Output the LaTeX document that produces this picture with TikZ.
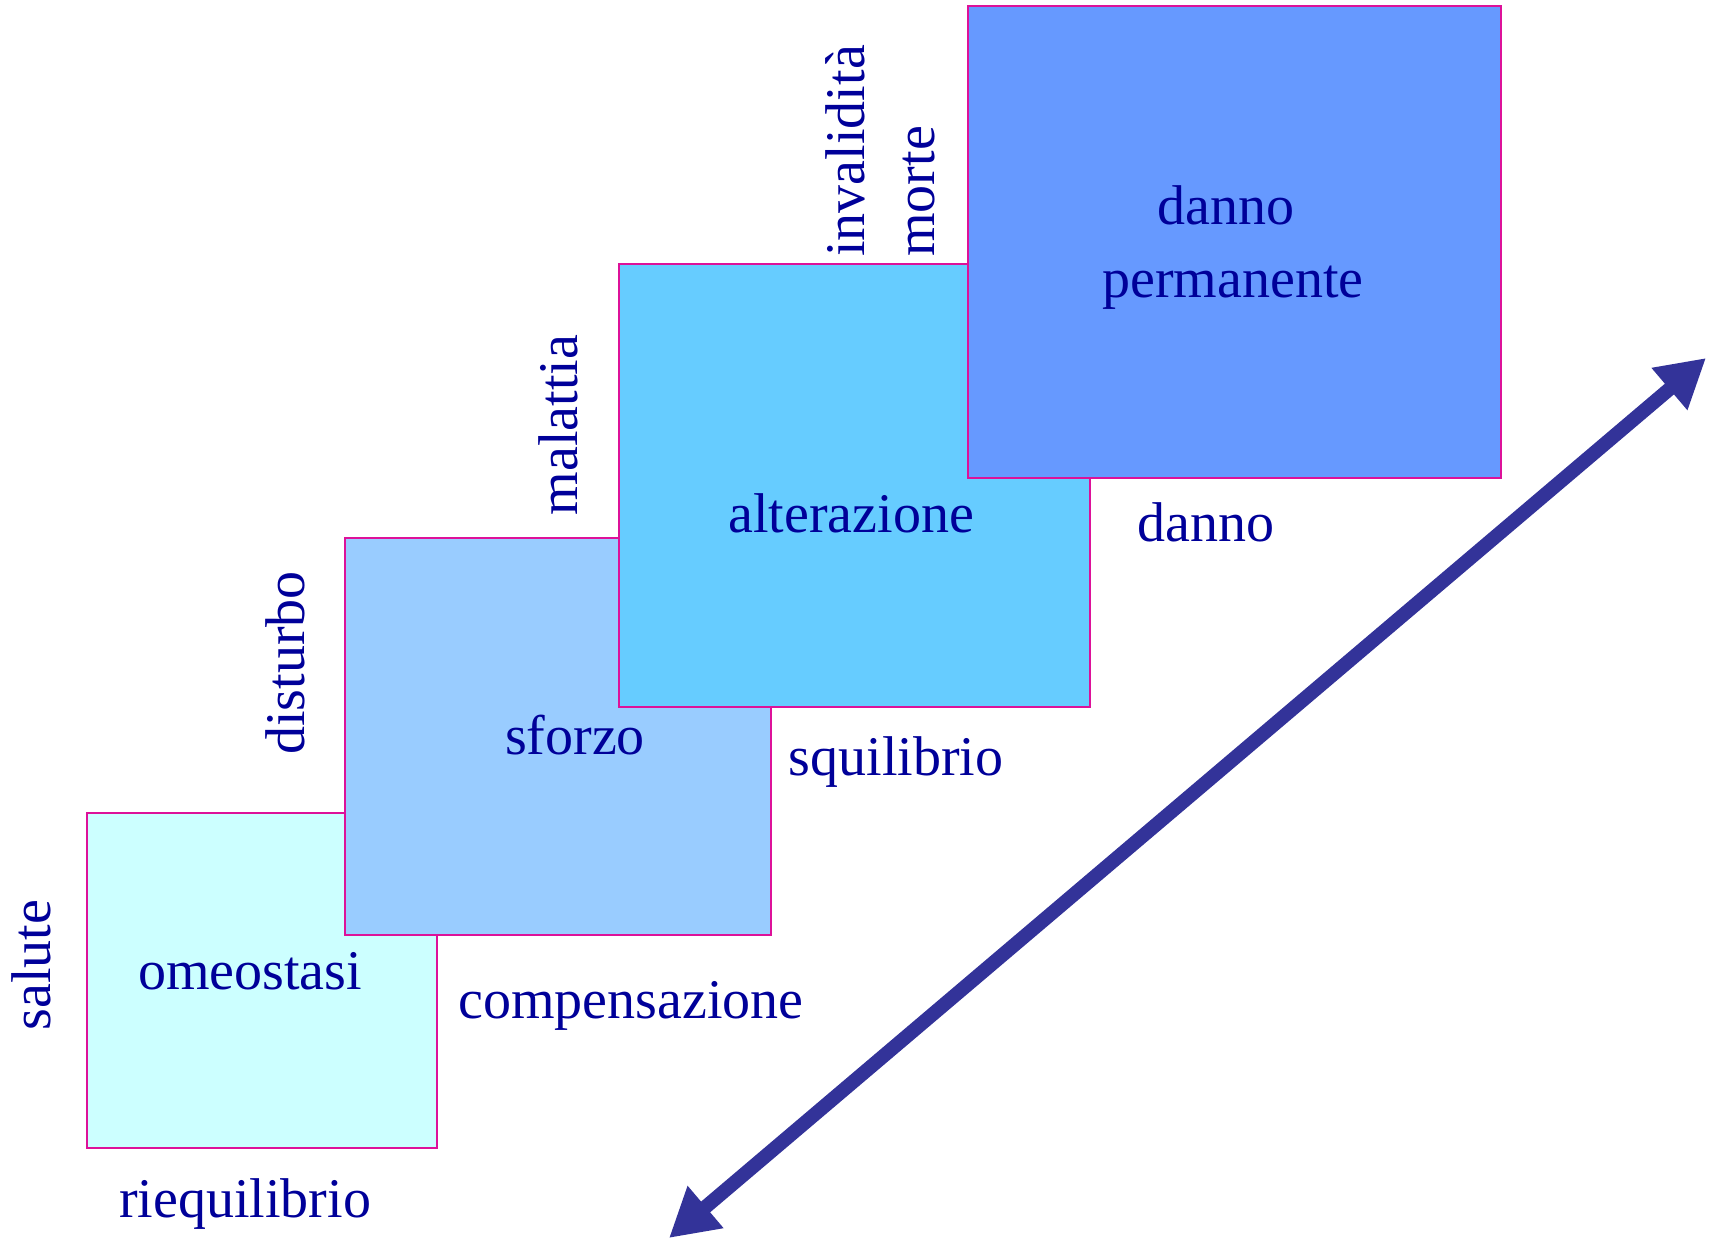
\documentclass[tikz,border=0pt]{standalone}
\usepackage{fontspec}
\setmainfont{Liberation Serif}
\usetikzlibrary{arrows.meta}
\definecolor{txt}{RGB}{0,0,153}
\definecolor{edge}{RGB}{221,17,153}
\definecolor{fom}{HTML}{CCFFFF}
\definecolor{fsf}{HTML}{99CCFF}
\definecolor{fal}{HTML}{66CCFF}
\definecolor{fdp}{HTML}{6699FF}
\definecolor{arr}{HTML}{333399}
\tikzset{
  stagebox/.style={draw=edge, line width=1pt, rectangle, inner sep=0pt, anchor=north west},
  lbl/.style={text=txt, font=\fontsize{28}{34}\selectfont, inner sep=0pt, anchor=base},
  vlbl/.style={lbl, rotate=90},
  bigarrow/.style={draw=arr, line width=7pt, {Triangle[length=24pt,width=26pt]}-{Triangle[length=24pt,width=26pt]}}
}
\begin{document}
\begin{tikzpicture}[x=0.5pt,y=-0.5pt]
\useasboundingbox (0,0) rectangle (1713,1242);
% boxes
\node[stagebox, fill=fom, minimum width=175pt, minimum height=167.5pt] (om) at (86,812) {};
\node[stagebox, fill=fsf, minimum width=213pt, minimum height=198.5pt] (sf) at (344,537) {};
\node[stagebox, fill=fal, minimum width=235.5pt, minimum height=221.5pt] (al) at (618,263) {};
\node[stagebox, fill=fdp, minimum width=266.5pt, minimum height=236pt] (dp) at (967,5) {};
% box texts
\node[lbl] (tom) at (250,989) {omeostasi};
\node[lbl] (tsf) at (575,754) {sforzo};
\node[lbl] (tal) at (851,532) {alterazione};
\node[lbl] (tdp1) at (1226,224) {danno};
\node[lbl] (tdp2) at (1233,297) {permanente};
% outside labels
\node[lbl] (riequ) at (245,1217) {riequilibrio};
\node[lbl] (comp) at (631,1018) {compensazione};
\node[lbl] (squi) at (896,775) {squilibrio};
\node[lbl] (danno) at (1206,541) {danno};
% vertical labels
\node[vlbl] (salute) at (50,965) {salute};
\node[vlbl] (dist) at (304,663) {disturbo};
\node[vlbl] (mal) at (577,425) {malattia};
\node[vlbl, anchor=base west] (inv) at (864,257) {invalidità};
\node[vlbl, anchor=base west] (morte) at (934,257) {morte};
% arrow
\coordinate (alow) at (669,1238);
\coordinate (ahigh) at (1706,358);
\draw[bigarrow] (alow) -- (ahigh);
\end{tikzpicture}
\end{document}
